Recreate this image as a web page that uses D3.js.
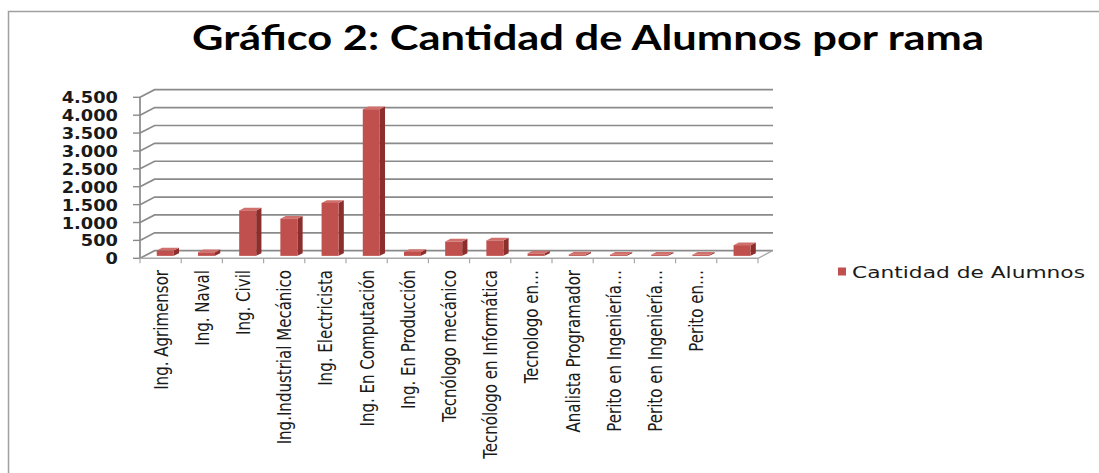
<!DOCTYPE html>
<html>
<head>
<meta charset="utf-8">
<script src="https://cdn.jsdelivr.net/npm/d3@7"></script>
<style>
  body { margin: 0; background: #fff; }
  svg { display: block; }
</style>
</head>
<body>
<div id="chart"></div>
<script>
// data
var categories = ["Ing. Agrimensor", "Ing. Naval", "Ing. Civil", "Ing.Industrial Mecánico",
    "Ing. Electricista", "Ing. En Computación", "Ing. En Producción", "Tecnólogo mecánico",
    "Tecnólogo en Informática", "Tecnologo en…", "Analista Programador", "Perito en Ingeniería…",
    "Perito en Ingeniería…", "Perito en…", ""];
var alumnos = [150, 100, 1270, 1040, 1480, 4100, 110, 400, 430, 70, 40, 30, 30, 30, 300];
var yTicks = [0, 500, 1000, 1500, 2000, 2500, 3000, 3500, 4000, 4500];
var seriesName = "Cantidad de Alumnos";

var data = categories.map(function (c, i) { return { key: i, label: c, value: alumnos[i] }; });

var W = 1099, H = 473;
var svg = d3.select("#chart").append("svg")
    .attr("width", W)
    .attr("height", H);

// outer frame (only top and left edges are visible)
svg.append("path")
    .attr("d", "M8.5," + H + "V11.5H" + W)
    .attr("fill", "none")
    .attr("stroke", "#a0a0a0")
    .attr("stroke-width", 1.5);

// title
svg.append("text")
    .attr("x", 588)
    .attr("y", 50)
    .attr("text-anchor", "middle")
    .attr("textLength", 792)
    .attr("lengthAdjust", "spacingAndGlyphs")
    .style("font-family", "Lato, 'Open Sans', sans-serif")
    .style("font-weight", "bold")
    .style("font-size", "35px")
    .text("Gráfico 2: Cantidad de Alumnos por rama");

// scales
var x = d3.scaleBand()
    .domain(data.map(function (d) { return d.key; }))
    .range([140, 758]);

var y = d3.scaleLinear()
    .domain([0, 4500])
    .range([258.3, 97.3]);

// depth vector of the 3D floor
var DX = 14.6, DY = -7.6;

var grid = svg.append("g");

// gridlines: side wall diagonal + back wall horizontal
grid.selectAll(".gl")
    .data(yTicks)
    .enter()
    .append("path")
    .attr("class", "gl")
    .attr("d", function (d) {
        return "M140," + y(d) + "L" + (140 + DX) + "," + (y(d) + DY) + "H773";
    })
    .attr("fill", "none")
    .attr("stroke", "#8a8a8a")
    .attr("stroke-width", 1.7);

// floor front edge and right edge
grid.append("path")
    .attr("d", "M140," + y(0) + "H758L" + (758 + DX) + "," + (y(0) + DY))
    .attr("fill", "none")
    .attr("stroke", "#a8a8a8")
    .attr("stroke-width", 1.4);

// y axis line
grid.append("line")
    .attr("x1", 140).attr("x2", 140)
    .attr("y1", y(4500)).attr("y2", y(0))
    .attr("stroke", "#8a8a8a")
    .attr("stroke-width", 1.7);

// y ticks
grid.selectAll(".yt")
    .data(yTicks)
    .enter()
    .append("line")
    .attr("x1", 133).attr("x2", 140)
    .attr("y1", function (d) { return y(d); })
    .attr("y2", function (d) { return y(d); })
    .attr("stroke", "#8a8a8a")
    .attr("stroke-width", 1.4);

// x ticks at band boundaries
var bounds = data.map(function (d) { return x(d.key); }).concat([758]);
grid.selectAll(".xt")
    .data(bounds)
    .enter()
    .append("line")
    .attr("x1", function (d) { return d; })
    .attr("x2", function (d) { return d; })
    .attr("y1", y(0))
    .attr("y2", y(0) + 5)
    .attr("stroke", "#a8a8a8")
    .attr("stroke-width", 1.2);

// y labels
svg.append("g").selectAll("text")
    .data(yTicks)
    .enter()
    .append("text")
    .attr("transform", function (d) { return "translate(118," + (y(d) + 6) + ") scale(1.15,1)"; })
    .attr("text-anchor", "end")
    .style("font-family", "'DejaVu Sans', Verdana, sans-serif")
    .style("font-weight", "bold")
    .style("font-size", "15.5px")
    .style("fill", "#1a1a1a")
    .text(function (d) { return d3.format(",")(d).replace(/,/g, "."); });

// 3D bars
var bw = 17;
var f0 = 0.32, f1 = 0.68;
var bars = svg.append("g").selectAll("g")
    .data(data)
    .enter()
    .append("g");

function face(d) {
    var xl = x(d.key) + x.bandwidth() / 2 - bw / 2 + DX * f0;
    var xr = xl + bw;
    var yb = y(0) + DY * f0;
    var yt = y(d.value) + DY * f0;
    var ox = DX * (f1 - f0), oy = DY * (f1 - f0);
    return { xl: xl, xr: xr, yb: yb, yt: yt, ox: ox, oy: oy };
}

// side
bars.append("path")
    .attr("d", function (d) {
        var f = face(d);
        return "M" + f.xr + "," + f.yb + "L" + (f.xr + f.ox) + "," + (f.yb + f.oy) +
            "L" + (f.xr + f.ox) + "," + (f.yt + f.oy) + "L" + f.xr + "," + f.yt + "Z";
    })
    .attr("fill", "#8c2f2c");

// top
bars.append("path")
    .attr("d", function (d) {
        var f = face(d);
        return "M" + f.xl + "," + f.yt + "L" + f.xr + "," + f.yt +
            "L" + (f.xr + f.ox) + "," + (f.yt + f.oy) + "L" + (f.xl + f.ox) + "," + (f.yt + f.oy) + "Z";
    })
    .attr("fill", "#d0706c");

// front
bars.append("rect")
    .attr("x", function (d) { return face(d).xl; })
    .attr("y", function (d) { return face(d).yt; })
    .attr("width", bw)
    .attr("height", function (d) { var f = face(d); return f.yb - f.yt; })
    .attr("fill", "#c0504d");

// category labels (condensed look)
svg.append("g").selectAll("text")
    .data(data)
    .enter()
    .append("text")
    .attr("transform", function (d) {
        return "translate(" + (x(d.key) + x.bandwidth() / 2 + 7) + ",270) rotate(-90) scale(0.88,1)";
    })
    .attr("text-anchor", "end")
    .style("font-family", "'DejaVu Sans Condensed', 'DejaVu Sans', sans-serif")
    .style("font-size", "19px")
    .style("fill", "#1a1a1a")
    .text(function (d) { return d.label; });

// legend
svg.append("rect")
    .attr("x", 838)
    .attr("y", 267.5)
    .attr("width", 8)
    .attr("height", 8)
    .attr("fill", "#c0504d");

svg.append("text")
    .attr("x", 852)
    .attr("y", 278)
    .attr("textLength", 233)
    .attr("lengthAdjust", "spacingAndGlyphs")
    .style("font-family", "'DejaVu Sans', Verdana, sans-serif")
    .style("font-size", "16px")
    .style("fill", "#1a1a1a")
    .text(seriesName);
</script>
</body>
</html>
